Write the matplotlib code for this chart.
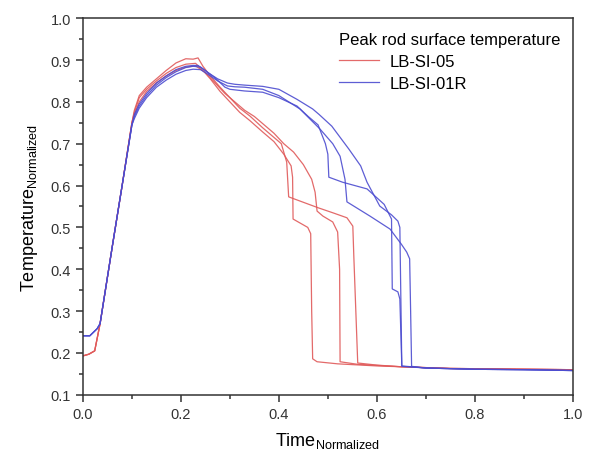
import matplotlib
matplotlib.use('Agg')
import matplotlib.pyplot as plt
from matplotlib.ticker import MultipleLocator

plt.rcParams['font.family'] = ['Liberation Sans', 'DejaVu Sans']
plt.rcParams['mathtext.fontset'] = 'custom'
plt.rcParams['mathtext.rm'] = 'Liberation Sans'

# Shared rise at the start of each test
t_rise = [0.0, 0.012, 0.024, 0.035, 0.06, 0.08, 0.10]
temp_rise_red = [0.193, 0.197, 0.205, 0.27, 0.455, 0.60, 0.75]
t_rise_blue = [0.0, 0.014, 0.029, 0.035, 0.06, 0.08, 0.10]
temp_rise_blue = [0.241, 0.241, 0.258, 0.27, 0.455, 0.60, 0.745]

# LB-SI-05 runs (red)
t_red_a = [0.105, 0.115, 0.13, 0.15, 0.17, 0.19, 0.21, 0.225, 0.235, 0.245, 0.26, 0.28, 0.30, 0.32,
           0.341, 0.367, 0.39, 0.405, 0.416, 0.420, 0.45, 0.48, 0.51, 0.539, 0.551, 0.553, 0.561,
           0.60, 0.65, 0.75, 1.0]
temp_red_a = [0.78, 0.815, 0.835, 0.855, 0.875, 0.893, 0.903, 0.902, 0.905, 0.885, 0.862, 0.835, 0.81, 0.785,
              0.766, 0.738, 0.715, 0.70, 0.656, 0.573, 0.56, 0.547, 0.535, 0.523, 0.503, 0.432, 0.176,
              0.171, 0.167, 0.163, 0.160]

t_red_b = [0.105, 0.115, 0.13, 0.15, 0.17, 0.19, 0.21, 0.23, 0.245, 0.26, 0.28, 0.30, 0.32, 0.341,
           0.367, 0.39, 0.41, 0.425, 0.428, 0.429, 0.459, 0.465, 0.467, 0.469, 0.478, 0.52, 0.60,
           0.75, 1.0]
temp_red_b = [0.775, 0.81, 0.83, 0.85, 0.868, 0.882, 0.89, 0.892, 0.875, 0.855, 0.825, 0.80, 0.775, 0.755,
              0.728, 0.705, 0.675, 0.647, 0.62, 0.52, 0.50, 0.485, 0.30, 0.186, 0.179, 0.174, 0.169,
              0.163, 0.160]

t_red_c = [0.105, 0.115, 0.13, 0.15, 0.17, 0.19, 0.21, 0.23, 0.25, 0.27, 0.29, 0.31, 0.33, 0.35,
           0.37, 0.39, 0.41, 0.43, 0.45, 0.467, 0.474, 0.478, 0.49, 0.51, 0.52, 0.524, 0.525,
           0.56, 0.65, 0.75, 1.0]
temp_red_c = [0.77, 0.80, 0.825, 0.845, 0.862, 0.875, 0.883, 0.886, 0.87, 0.845, 0.82, 0.80, 0.78, 0.765,
              0.745, 0.725, 0.70, 0.68, 0.65, 0.615, 0.584, 0.539, 0.527, 0.513, 0.489, 0.40, 0.179,
              0.173, 0.167, 0.163, 0.160]

# LB-SI-01R runs (blue)
t_blue_a = [0.105, 0.115, 0.13, 0.15, 0.17, 0.19, 0.21, 0.225, 0.235, 0.25, 0.27, 0.29, 0.30, 0.33,
            0.367, 0.40, 0.437, 0.46, 0.48, 0.495, 0.50, 0.502, 0.53, 0.58, 0.615, 0.63, 0.6315,
            0.643, 0.647, 0.651, 0.70, 0.80, 0.90, 1.0]
temp_blue_a = [0.77, 0.795, 0.82, 0.845, 0.862, 0.877, 0.885, 0.887, 0.887, 0.875, 0.857, 0.835, 0.83, 0.826,
               0.823, 0.81, 0.79, 0.765, 0.745, 0.70, 0.675, 0.62, 0.608, 0.592, 0.555, 0.52, 0.353,
               0.346, 0.329, 0.169, 0.164, 0.161, 0.160, 0.158]

t_blue_b = [0.105, 0.115, 0.13, 0.15, 0.17, 0.19, 0.21, 0.225, 0.24, 0.255, 0.275, 0.295, 0.31, 0.33,
            0.367, 0.40, 0.437, 0.469, 0.482, 0.508, 0.543, 0.567, 0.58, 0.606, 0.63, 0.643, 0.647,
            0.651, 0.70, 0.80, 0.90, 1.0]
temp_blue_b = [0.765, 0.79, 0.815, 0.84, 0.858, 0.872, 0.882, 0.885, 0.883, 0.87, 0.855, 0.845, 0.842, 0.84,
               0.837, 0.83, 0.806, 0.783, 0.77, 0.742, 0.687, 0.647, 0.608, 0.551, 0.53, 0.515, 0.50,
               0.168, 0.164, 0.161, 0.160, 0.158]

t_blue_c = [0.105, 0.115, 0.13, 0.15, 0.17, 0.19, 0.21, 0.225, 0.24, 0.255, 0.275, 0.295, 0.31, 0.33,
            0.367, 0.40, 0.443, 0.484, 0.51, 0.525, 0.535, 0.539, 0.586, 0.627, 0.65, 0.661, 0.667,
            0.669, 0.671, 0.70, 0.80, 0.90, 1.0]
temp_blue_c = [0.76, 0.785, 0.81, 0.835, 0.852, 0.866, 0.875, 0.878, 0.877, 0.866, 0.85, 0.838, 0.836, 0.835,
               0.830, 0.815, 0.783, 0.735, 0.70, 0.670, 0.615, 0.561, 0.527, 0.496, 0.46, 0.441, 0.425,
               0.30, 0.168, 0.164, 0.161, 0.160, 0.158]

red_runs = [(t_red_a, temp_red_a), (t_red_b, temp_red_b), (t_red_c, temp_red_c)]
blue_runs = [(t_blue_a, temp_blue_a), (t_blue_b, temp_blue_b), (t_blue_c, temp_blue_c)]

red = '#e05a5a'
blue = '#4c4cd0'

fig = plt.figure(figsize=(6.01, 4.56), dpi=100)
ax = fig.add_axes([0.138, 0.132, 0.815, 0.826])

for i, (t, temp) in enumerate(red_runs):
    ax.plot(t_rise + t, temp_rise_red + temp, color=red, lw=0.9, alpha=0.9,
            label='LB-SI-05' if i == 0 else None)
for i, (t, temp) in enumerate(blue_runs):
    ax.plot(t_rise_blue + t, temp_rise_blue + temp, color=blue, lw=0.9, alpha=0.9,
            label='LB-SI-01R' if i == 0 else None)

ax.set_xlim(0, 1.0)
ax.set_ylim(0.1, 1.0)
ax.xaxis.set_major_locator(MultipleLocator(0.2))
ax.xaxis.set_minor_locator(MultipleLocator(0.1))
ax.yaxis.set_major_locator(MultipleLocator(0.1))
ax.yaxis.set_minor_locator(MultipleLocator(0.05))
ax.tick_params(which='both', direction='out', top=False, right=False, colors='#333333',
               labelcolor='#333333', labelsize=10.5)
ax.tick_params(which='major', length=5, width=1.1)
ax.tick_params(which='minor', length=3, width=1.1)
for s in ax.spines.values():
    s.set_color('#333333')
    s.set_linewidth(1.1)

ax.set_xlabel(r'Time$_{\mathrm{Normalized}}$', fontsize=13, labelpad=7)
ax.set_ylabel(r'Temperature$_{\mathrm{Normalized}}$', fontsize=13, labelpad=8)

leg = ax.legend(title='Peak rod surface temperature', loc='upper left',
                bbox_to_anchor=(0.51, 0.98), frameon=False, fontsize=12,
                title_fontsize=12, handlelength=2.4, handletextpad=0.6,
                labelspacing=0.4, alignment='left', borderaxespad=0)

fig.savefig('out.png', dpi=100)
